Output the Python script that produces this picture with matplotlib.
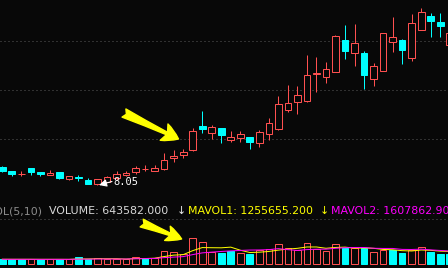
import numpy as np
import pandas as pd
import matplotlib
matplotlib.use("Agg")
import matplotlib.pyplot as plt

BG = "#080808"
UP = "#ff5050"
DOWN = "#00ffff"
GRID = "#5a5a5a"
YELLOW = "#ffff00"
MAGENTA = "#ff00ff"

# daily OHLC (price units)
opens = [8.87, 8.69, 8.56, 8.82, 8.65, 8.54, 8.65, 8.38, 8.43, 8.31, 8.15, 8.23, 8.40, 8.54, 8.64, 8.77,
         8.71, 8.79, 9.21, 9.35, 9.54, 10.53, 10.26, 10.45, 9.96, 10.05, 10.08, 9.85, 10.22, 10.42, 11.20,
         11.51, 11.55, 12.67, 12.54, 12.75, 14.04, 13.50, 13.52, 12.46, 12.79, 13.97, 14.04, 13.32, 14.46,
         15.02, 14.78, 13.84]
closes = [8.71, 8.58, 8.57, 8.67, 8.57, 8.62, 8.42, 8.48, 8.42, 8.18, 8.36, 8.44, 8.56, 8.60, 8.80, 8.78,
          8.80, 9.13, 9.32, 9.46, 10.33, 10.41, 10.49, 10.18, 10.08, 10.20, 9.89, 10.29, 10.65, 11.43, 11.47,
          11.80, 12.61, 12.69, 12.86, 14.20, 13.59, 13.92, 12.61, 12.98, 14.33, 14.16, 13.63, 14.73, 15.18,
          14.83, 14.62, 14.31]
highs = [8.91, 8.69, 8.69, 8.82, 8.65, 8.73, 8.65, 8.48, 8.54, 8.41, 8.36, 8.51, 8.68, 8.68, 8.89, 8.93,
         8.93, 9.42, 9.54, 9.61, 10.44, 11.14, 10.57, 10.45, 10.33, 10.33, 10.08, 10.37, 10.86, 11.77, 12.20,
         12.16, 13.43, 13.35, 13.14, 14.24, 14.65, 14.69, 13.59, 13.10, 14.33, 14.98, 14.08, 15.10, 15.35,
         15.14, 15.14, 14.45]
lows = [8.65, 8.50, 8.49, 8.54, 8.50, 8.54, 8.36, 8.34, 8.30, 8.18, 8.14, 8.23, 8.34, 8.50, 8.56, 8.69,
        8.71, 8.72, 9.08, 9.22, 9.51, 10.26, 10.00, 9.84, 9.86, 9.89, 9.59, 9.69, 9.96, 10.37, 11.10,
        11.02, 11.53, 11.93, 12.30, 12.73, 13.27, 12.99, 12.04, 12.18, 12.79, 13.56, 13.07, 13.18, 14.46,
        14.16, 14.16, 13.63]
volumes = [286000, 284000, 285000, 284000, 271000, 285000, 284000, 272000, 420000, 285000, 373000,
           271000, 284000, 285000, 461000, 373000, 393000, 847000, 759000, 623000, 1728000, 1436000,
           799000, 732000, 847000, 691000, 644000, 915000, 982000, 1301000, 1030000, 915000, 1368000,
           982000, 867000, 1301000, 1030000, 1029000, 1031000, 759000, 915000, 914000, 732000, 916000,
           1097000, 799000, 643582, 623000]

low_label = "8.05"
header = [("VOL(5,10)", "#8c8c8c"), ("VOLUME: 643582.000", "#d8d8d8"), ("\u2193", "#e8e8e8"),
          ("MAVOL1: 1255655.200", YELLOW), ("\u2193", YELLOW), ("MAVOL2: 1607862.900", MAGENTA)]

W, H = 448, 268
o, c, h, l = (np.array(a) for a in (opens, closes, highs, lows))
v = np.array(volumes, dtype=float)
idx = np.arange(len(o))
up = c >= o
vol_up = np.r_[up[0], c[1:] >= c[:-1]]
ma5 = pd.Series(v).rolling(5, min_periods=1).mean()
ma10 = pd.Series(v).rolling(10, min_periods=1).mean()

fig = plt.figure(figsize=(W / 100, H / 100), dpi=100, facecolor=BG)


def px_axes(top, bottom):
    a = fig.add_axes([0, 1 - bottom / H, 1, (bottom - top) / H])
    a.set_facecolor(BG)
    for s in a.spines.values():
        s.set_visible(False)
    a.set_xticks([])
    a.set_yticks([])
    a.set_xlim(-0.2416, 46.818)
    return a


LW = 0.72
BW = 0.7
DOTS = (0, (1, 3))

# price panel
ax = px_axes(0, 200)
ax.set_ylim(7.5102, 15.6735)
for g in (10, 12, 14):
    ax.axhline(g, color=GRID, lw=LW, ls=DOTS, zorder=0)
cols = np.where(up, UP, DOWN)
ax.vlines(idx, l, h, colors=cols, lw=LW, zorder=1)
bottoms = np.minimum(o, c)
heights = np.maximum(np.abs(c - o), 0.005)
ax.bar(idx[up], heights[up], BW, bottoms[up], facecolor=BG, edgecolor=UP, lw=LW, zorder=2)
ax.bar(idx[~up], heights[~up], BW, bottoms[~up], facecolor=DOWN, edgecolor=DOWN, lw=LW, zorder=2)

imin = int(np.argmin(l))
ax.annotate("", xy=(imin + 0.16, 8.12), xytext=(imin + 1.52, 8.265),
            arrowprops=dict(arrowstyle="-|>,head_length=0.45,head_width=0.22", color="white",
                            lw=0.8, shrinkA=0, shrinkB=0))
ax.text(imin + 1.63, 8.12, low_label, family="DejaVu Sans Mono", size=7.5, color="white",
        va="baseline", ha="left")

ax.annotate("", xy=(18.51, 10.0), xytext=(12.78, 11.06), annotation_clip=False,
            arrowprops=dict(arrowstyle="fancy,head_length=1.15,head_width=1.3,tail_width=0.65",
                            color=YELLOW, shrinkA=0, shrinkB=0, mutation_scale=10))

# volume panel
VS = 67745.0
axv = px_axes(215, 268)
axv.set_ylim(-4.5 * VS, 48.5 * VS)
axv.axhline(3e6, color=GRID, lw=LW, ls=DOTS, zorder=0)
axv.bar(idx[vol_up], v[vol_up], BW, facecolor=BG, edgecolor=UP, lw=LW, zorder=2)
axv.bar(idx[~vol_up], v[~vol_up], BW, facecolor=DOWN, edgecolor=DOWN, lw=LW, zorder=2)
axv.plot(idx, ma5, color=YELLOW, lw=LW, zorder=3)
axv.plot(idx, ma10, color=MAGENTA, lw=LW, zorder=3)
axv.annotate("", xy=(18.84, 1.66e6), xytext=(14.64, 2.74e6), annotation_clip=False,
             arrowprops=dict(arrowstyle="fancy,head_length=1.1,head_width=1.1,tail_width=0.6",
                             color=YELLOW, shrinkA=0, shrinkB=0, mutation_scale=10))

# header line of the volume panel (clipped at both figure edges, as in the original)
xs = [42.5, 49.3, 176.5, 188.3, 319.5, 331.3]
for (s, col), x in zip(header, xs):
    fig.text(x / W, 1 - 214 / H, s, color=col, size=7.9, family="DejaVu Sans",
             ha="right" if s.startswith("VOL(") else "left", va="baseline")

fig.savefig("out.png", dpi=100, facecolor=BG)
